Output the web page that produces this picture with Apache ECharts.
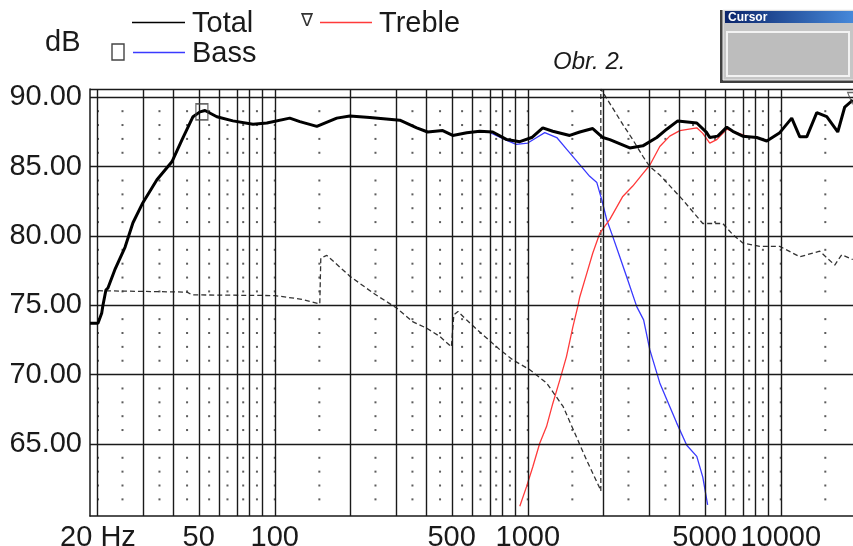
<!DOCTYPE html>
<html>
<head>
<meta charset="utf-8">
<title>Obr. 2</title>
<script src="https://cdn.jsdelivr.net/npm/echarts@6/dist/echarts.min.js"></script>
<style>
  html, body { margin: 0; padding: 0; background: #fff; }
  #chart { width: 853px; height: 546px; }
</style>
</head>
<body>
<div id="chart"></div>
<script>
// [Hz, dB]
var total = [[18.6,73.7],[20,73.7],[20.7,74.45],[20.9,74.95],[21.5,76.1],[21.9,76.25],[23.3,77.55],[25.6,79.2],
  [27.5,80.95],[30.1,82.4],[34.2,84.05],[39.2,85.35],[43,86.95],[47.5,88.6],[50.6,88.95],[53,89.05],[59,88.6],
  [68.3,88.3],[82,88.05],[93,88.15],[114.6,88.5],[125.6,88.25],[146.6,87.9],[175.8,88.5],[198,88.65],[237.5,88.55],
  [312,88.35],[364,87.8],[402,87.5],[461,87.6],[505,87.25],[574,87.45],[646,87.55],[727,87.5],[826,86.95],[930,86.8],
  [1037,87.1],[1146,87.8],[1255,87.55],[1465,87.25],[1605,87.5],[1806,87.75],[1980,87.1],[2110,86.95],[2530,86.35],
  [2850,86.5],[3235,87.1],[3543,87.7],[3916,88.3],[4656,88.15],[5100,87.45],[5240,87.1],[5636,87.2],[6118,87.85],
  [6462,87.55],[7075,87.2],[8039,87.1],[8805,86.85],[9910,87.45],[11050,88.5],[11890,87.15],[12670,87.15],
  [13880,88.9],[15200,88.6],[16800,87.5],[17900,89.3],[19260,89.8]];
var bass = [[700,87.5],[826,86.9],[900,86.6],[1000,86.7],[1085,87.1],[1167,87.45],[1302,87.1],[1426,86.25],
  [1605,85.15],[1757,84.3],[1875,83.85],[1961,82.6],[2053,81.15],[2168,79.95],[2310,78.5],[2486,76.8],[2696,74.9],
  [2870,73.95],[3036,71.8],[3325,69.4],[3543,68.2],[3880,66.5],[4250,64.9],[4656,64.1],[4918,62.6],[5140,60.6]];
var treble = [[930,60.5],[988,61.9],[1047,63.35],[1115,65.05],[1186,66.25],[1255,67.9],[1338,69.6],[1422,71.3],
  [1506,73.4],[1576,74.9],[1605,75.6],[1711,77.3],[1806,78.75],[1926,80.2],[2110,81.2],[2374,82.85],[2600,83.6],
  [2850,84.5],[3036,85.1],[3325,86.45],[3640,87.2],[3990,87.6],[4656,87.8],[4918,87.4],[5240,86.7],[5585,86.95],
  [6118,87.7],[6462,87.55],[7337,87.2]];
var dashed = [[20,76.05],[45,75.95],[47.1,75.75],[100,75.7],[126,75.45],[150.6,75.1],[152,78.4],[160.6,78.6],
  [198,77.1],[244,75.9],[303,74.8],[352,73.8],[398,73.35],[449,72.75],[499,72.0],[510,74.3],[530,74.55],[572,73.95],
  [666,72.85],[775,71.8],[875,71.05],[1018,70.35],[1186,69.4],[1379,67.7],[1558,65.5],[1706,63.85],[1926,61.8],
  [1944,61.6],[1944,90.6],[2374,88.05],[2600,86.95],[2850,85.75],[3036,85.0],[3325,84.4],[4100,82.6],[4918,80.9],
  [5900,80.9],[6460,80.1],[7075,79.5],[8260,79.25],[9910,79.25],[11890,78.5],[14260,78.9],[16350,77.9],
  [17420,78.65],[19260,78.3]];
var bassMark = [[51.5, 88.95]];
var trebleMark = [[19150, 89.95]];

var gridHz = [20,30,40,50,60,70,80,90,100,200,300,400,500,600,700,800,900,1000,
  2000,3000,4000,5000,6000,7000,8000,9000,10000];
var gridDb = [65,70,75,80,85,90,90.6];
var dotHz = [20,25,35,45,55,65,75,85,100,150,250,350,450,550,650,750,850,1000,
  1500,2500,3500,4500,5500,6500,7500,8500,10000,15000];
var dotDb = [61,62,63,64,66,67,68,69,71,72,73,74,76,77,78,79,81,82,83,84,86,87,88,89];
var xLabelHz = [20,50,100,500,1000,5000,10000];
var yLabelDb = [65,70,75,80,85,90];

var lg = Math.log10;
function toLog(arr) {
  return arr.map(function (p) { return [lg(p[0]), p[1]]; });
}

var dots = [];
dotHz.forEach(function (f) {
  dotDb.forEach(function (d) { dots.push([lg(f), d]); });
});
var gridLines = gridHz.map(function (f) { return { xAxis: lg(f) }; })
  .concat(gridDb.map(function (d) { return { yAxis: d }; }));

var font = '"Liberation Sans", Arial, sans-serif';
function txt(str, x, y, size, extra, z) {
  var st = { text: str, font: size + 'px ' + font, fill: '#1a1a1a',
    align: 'left', textAlign: 'left', verticalAlign: 'middle', textVerticalAlign: 'middle' };
  for (var k in extra) st[k] = extra[k];
  return { type: 'text', x: x, y: y, z: z || 10, style: st };
}
function seg(x1, y1, x2, y2, color) {
  return { type: 'line', z: 10, shape: { x1: x1, y1: y1, x2: x2, y2: y2 },
    style: { stroke: color, lineWidth: 1.5 } };
}

var chart = echarts.init(document.getElementById('chart'));
var option = {
  animation: false,
  backgroundColor: '#fff',
  grid: { left: 90, top: 89, right: 0, bottom: 30, containLabel: false, outerBoundsMode: 'none' },
  xAxis: {
    type: 'value',
    min: lg(18.6),
    max: lg(19300),
    axisLine: { show: true, onZero: false, lineStyle: { color: '#1a1a1a', width: 1.5 } },
    axisTick: { show: false },
    splitLine: { show: false },
    axisLabel: {
      customValues: xLabelHz.map(lg),
      formatter: function (v) {
        var f = Math.round(Math.pow(10, v));
        return f === 20 ? '20 Hz' : String(f);
      },
      fontSize: 29,
      fontFamily: font,
      color: '#1a1a1a',
      margin: 7
    }
  },
  yAxis: {
    type: 'value',
    min: 59.8,
    max: 90.6,
    axisLine: { show: true, onZero: false, lineStyle: { color: '#1a1a1a', width: 1.5 } },
    axisTick: { show: false },
    splitLine: { show: false },
    axisLabel: {
      customValues: yLabelDb,
      formatter: function (v) { return v.toFixed(2); },
      fontSize: 29,
      fontFamily: font,
      color: '#1a1a1a',
      margin: 8
    }
  },
  series: [
    {
      type: 'scatter',
      data: dots,
      symbol: 'rect',
      symbolSize: [2, 2],
      itemStyle: { color: '#333' },
      silent: true,
      z: 1,
      markLine: {
        silent: true,
        symbol: ['none', 'none'],
        label: { show: false },
        lineStyle: { color: '#1a1a1a', width: 1.4, type: 'solid' },
        emphasis: { disabled: true },
        data: gridLines
      }
    },
    {
      type: 'line',
      data: toLog(dashed),
      showSymbol: false,
      lineStyle: { color: '#333', width: 1.3, type: [5, 3] },
      z: 2
    },
    {
      type: 'line',
      data: toLog(bass),
      showSymbol: false,
      lineStyle: { color: '#3a3aff', width: 1.3 },
      z: 3
    },
    {
      type: 'line',
      data: toLog(treble),
      showSymbol: false,
      lineStyle: { color: '#ff3a3a', width: 1.3 },
      z: 4
    },
    {
      type: 'line',
      data: toLog(total),
      showSymbol: false,
      lineStyle: { color: '#000', width: 3 },
      z: 5
    },
    {
      type: 'scatter',
      data: toLog(bassMark),
      symbol: 'rect',
      symbolSize: [12, 16],
      itemStyle: { color: 'rgba(0,0,0,0)', borderColor: '#444', borderWidth: 1.4 },
      z: 6
    },
    {
      type: 'scatter',
      data: toLog(trebleMark),
      symbol: 'triangle',
      symbolRotate: 180,
      symbolSize: [9, 11],
      itemStyle: { color: 'rgba(0,0,0,0)', borderColor: '#444', borderWidth: 1.2 },
      z: 6
    }
  ],
  graphic: [
    txt('dB', 45, 43, 29),
    seg(132, 22.5, 185, 22.5, '#000'),
    txt('Total', 192, 24, 29),
    { type: 'rect', z: 10, shape: { x: 112, y: 44, width: 12, height: 16 },
      style: { fill: 'none', stroke: '#444', lineWidth: 1.4 } },
    seg(133, 52.5, 185, 52.5, '#3a3aff'),
    txt('Bass', 192, 54, 29),
    txt('\u2207', 301, 21, 18, { fill: '#333' }),
    seg(320, 22.5, 372, 22.5, '#ff3a3a'),
    txt('Treble', 379, 24, 29),
    txt('Obr. 2.', 553, 62, 24, { font: 'italic 24px ' + font }),
    // cursor window
    { type: 'rect', z: 10, shape: { x: 720, y: 10, width: 140, height: 73 }, style: { fill: '#404040' } },
    { type: 'rect', z: 11, shape: { x: 723, y: 10, width: 137, height: 70 }, style: { fill: '#c6c6c6', stroke: '#eeeeee', lineWidth: 1 } },
    { type: 'rect', z: 12, shape: { x: 725, y: 11, width: 135, height: 12 },
      style: { fill: { type: 'linear', x: 0, y: 0, x2: 1, y2: 0,
        colorStops: [{ offset: 0, color: '#0a246a' }, { offset: 1, color: '#4a8ee0' }] } } },
    txt('Cursor', 728, 17.5, 12, { font: 'bold 12px ' + font, fill: '#fff' }, 14),
    { type: 'rect', z: 12, shape: { x: 727, y: 32, width: 122, height: 44 },
      style: { fill: '#bdbdbd', stroke: '#f2f2f2', lineWidth: 2 } }
  ]
};
chart.setOption(option);
</script>
</body>
</html>
